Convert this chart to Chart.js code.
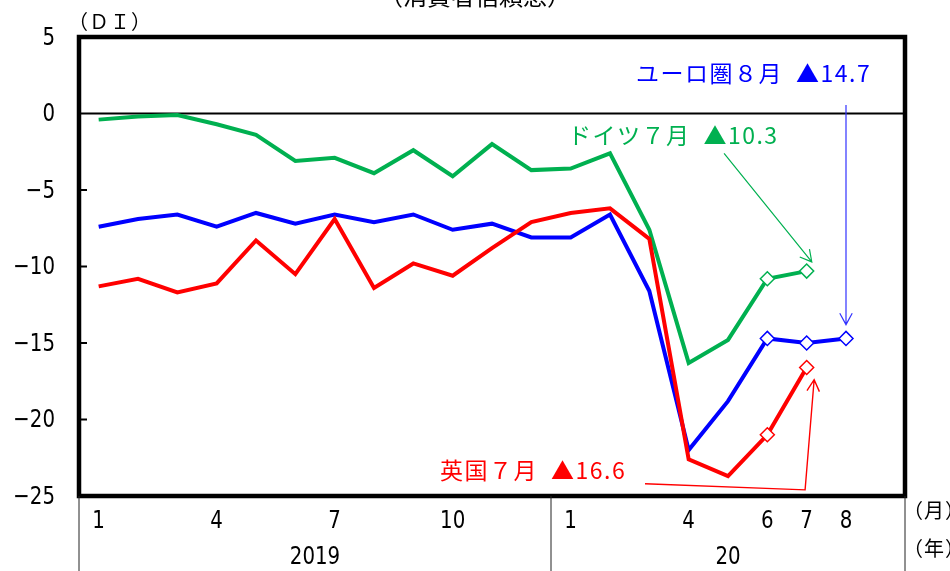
<!DOCTYPE html>
<html>
<head>
  <title>消費者信頼感</title>
  <script src="https://cdn.jsdelivr.net/npm/chart.js"></script>
  <style>
    body { margin: 0; background: #fff; }
    #wrap { width: 950px; height: 571px; }
  </style>
</head>
<body>
  <div id="wrap"><canvas id="di-chart" width="950" height="571"></canvas></div>
  <script>
    // 2019/1 .. 2020/8, plus one empty slot on the right
    const months = ['1','2','3','4','5','6','7','8','9','10','11','12',
                    '1','2','3','4','5','6','7','8',''];
    const shownMonths = [0, 3, 6, 9, 12, 15, 17, 18, 19];
    const years = ['2019', '20'];
    const yTicks = [5, 0, -5, -10, -15, -20, -25];

    const euroArea = [-7.4, -6.9, -6.6, -7.4, -6.5, -7.2, -6.6, -7.1, -6.6, -7.6, -7.2, -8.1,
                      -8.1, -6.6, -11.6, -22.0, -18.8, -14.7, -15.0, -14.7, null];
    const germany  = [-0.4, -0.2, -0.1, -0.7, -1.4, -3.1, -2.9, -3.9, -2.4, -4.1, -2.0, -3.7,
                      -3.6, -2.6, -7.6, -16.3, -14.8, -10.8, -10.3, null, null];
    const uk       = [-11.3, -10.8, -11.7, -11.1, -8.3, -10.5, -6.9, -11.4, -9.8, -10.6, -8.8, -7.1,
                      -6.5, -6.2, -8.2, -22.6, -23.7, -21.0, -16.6, null, null];

    // months drawn with hollow diamonds
    const euroMarks = [17, 18, 19];
    const germanyMarks = [17, 18];
    const ukMarks = [17, 18];

    const GREEN = '#00b050', BLUE = '#0000ff', RED = '#ff0000';
    const numFont = '25px "DejaVu Sans Condensed", "Liberation Sans Narrow", sans-serif';
    const jpFont = '23px "Noto Sans CJK JP", sans-serif';

    function series(label, data, color, marks, order) {
      return {
        label: label,
        data: data,
        order: order,
        borderColor: color,
        borderWidth: 4,
        tension: 0,
        pointStyle: 'rectRot',
        pointRadius: data.map((v, i) => marks.includes(i) ? 7 : 0),
        pointHoverRadius: 0,
        pointBackgroundColor: '#fff',
        pointBorderColor: color,
        pointBorderWidth: 1.5
      };
    }

    // narrow, tall numerals
    function numText(ctx, text, x, y) {
      ctx.save();
      ctx.translate(x, y);
      ctx.scale(0.88, 1);
      ctx.fillText(text, 0, 0);
      ctx.restore();
    }

    function arrow(ctx, pts, color, width) {
      ctx.save();
      ctx.strokeStyle = color;
      ctx.lineWidth = width;
      ctx.beginPath();
      ctx.moveTo(pts[0][0], pts[0][1]);
      for (let i = 1; i < pts.length; i++) ctx.lineTo(pts[i][0], pts[i][1]);
      const [x1, y1] = pts[pts.length - 2];
      const [x2, y2] = pts[pts.length - 1];
      const ang = Math.atan2(y2 - y1, x2 - x1);
      const len = 13, spread = 0.5;
      ctx.moveTo(x2 - len * Math.cos(ang - spread), y2 - len * Math.sin(ang - spread));
      ctx.lineTo(x2, y2);
      ctx.lineTo(x2 - len * Math.cos(ang + spread), y2 - len * Math.sin(ang + spread));
      ctx.stroke();
      ctx.restore();
    }

    const decor = {
      id: 'decor',
      beforeDatasetsDraw(chart) {
        const {ctx, chartArea: a, scales: {y}} = chart;
        const y0 = y.getPixelForValue(0);
        ctx.save();
        ctx.strokeStyle = '#000';
        ctx.lineWidth = 2;
        ctx.beginPath();
        ctx.moveTo(a.left, y0);
        ctx.lineTo(a.right, y0);
        ctx.stroke();
        ctx.restore();
      },
      afterDatasetsDraw(chart) {
        const {ctx, chartArea: a, scales: {x, y}} = chart;
        const px = (i) => x.getPixelForValue(i);
        const py = (v) => y.getPixelForValue(v);
        const slot = px(1) - px(0);
        ctx.save();

        // plot frame and inner ticks
        ctx.strokeStyle = '#000';
        ctx.lineWidth = 4.5;
        ctx.strokeRect(a.left, a.top, a.right - a.left, a.bottom - a.top);
        ctx.lineWidth = 2;
        yTicks.slice(2, -1).forEach(t => {
          ctx.beginPath();
          ctx.moveTo(a.left, py(t));
          ctx.lineTo(a.left + 8, py(t));
          ctx.stroke();
        });

        // y tick labels
        ctx.fillStyle = '#000';
        ctx.font = numFont;
        ctx.textAlign = 'right';
        ctx.textBaseline = 'middle';
        yTicks.forEach(t => {
          numText(ctx, t < 0 ? '\u2212' + Math.abs(t) : String(t), 55, py(t) + 1);
        });

        // month / year rows under the plot
        const split = px(12) - slot / 2;
        ctx.lineWidth = 1;
        ctx.strokeStyle = '#222';
        [a.left, split, a.right].forEach(xx => {
          ctx.beginPath();
          ctx.moveTo(xx, a.bottom);
          ctx.lineTo(xx, chart.height);
          ctx.stroke();
        });
        ctx.textAlign = 'center';
        shownMonths.forEach(i => numText(ctx, months[i], px(i), a.bottom + 25));
        numText(ctx, years[0], (a.left + split) / 2, a.bottom + 61);
        numText(ctx, years[1], (split + a.right) / 2, a.bottom + 61);

        // unit labels
        ctx.font = '20px "Noto Sans CJK JP", sans-serif';
        ctx.textAlign = 'left';
        ctx.letterSpacing = '1px';
        ctx.fillText('（ＤＩ）', 68, 21);
        ctx.fillText('（月）', 903, a.bottom + 14);
        ctx.fillText('（年）', 903, a.bottom + 52);
        ctx.letterSpacing = '0px';
        ctx.font = '24px "Noto Sans CJK JP", sans-serif';
        ctx.textAlign = 'center';
        ctx.textBaseline = 'alphabetic';
        ctx.fillText('（消費者信頼感）', 475, 5);

        // callouts for the latest month of each series
        ctx.font = jpFont;
        ctx.textAlign = 'left';
        ctx.textBaseline = 'middle';
        ctx.letterSpacing = '1.5px';
        ctx.fillStyle = BLUE;
        ctx.fillText('ユーロ圏８月\u2002▲' + Math.abs(euroArea[19]).toFixed(1), px(13.66), py(2.65));
        ctx.fillStyle = GREEN;
        ctx.fillText('ドイツ７月\u2002▲' + Math.abs(germany[18]).toFixed(1), px(11.93), py(-1.45));
        ctx.fillStyle = RED;
        ctx.fillText('英国７月\u2002▲' + Math.abs(uk[18]).toFixed(1), px(8.68), py(-23.35));
        ctx.letterSpacing = '0px';

        arrow(ctx, [[px(19), py(0.55)], [px(19), py(-13.8)]], '#3333ff', 1.2);
        arrow(ctx, [[px(15.9), py(-2.6)], [px(18.13), py(-9.7)]], GREEN, 1.2);
        arrow(ctx, [[px(13.89), py(-24.2)], [px(17.96), py(-24.6)], [px(18.19), py(-17.4)]], RED, 1.4);

        ctx.restore();
      }
    };

    const ctx = document.getElementById('di-chart').getContext('2d');
    const chart = new Chart(ctx, {
      type: 'line',
      data: {
        labels: months,
        datasets: [
          series('ユーロ圏', euroArea, BLUE, euroMarks, 2),
          series('ドイツ', germany, GREEN, germanyMarks, 1),
          series('英国', uk, RED, ukMarks, 0)
        ]
      },
      options: {
        responsive: false,
        animation: false,
        devicePixelRatio: 1,
        layout: { padding: { left: 79, right: 45, top: 37, bottom: 75 } },
        plugins: { legend: { display: false }, tooltip: { enabled: false } },
        scales: {
          x: { display: false, offset: true },
          y: { display: false, min: -25, max: 5 }
        }
      },
      plugins: [decor]
    });
  </script>
</body>
</html>
